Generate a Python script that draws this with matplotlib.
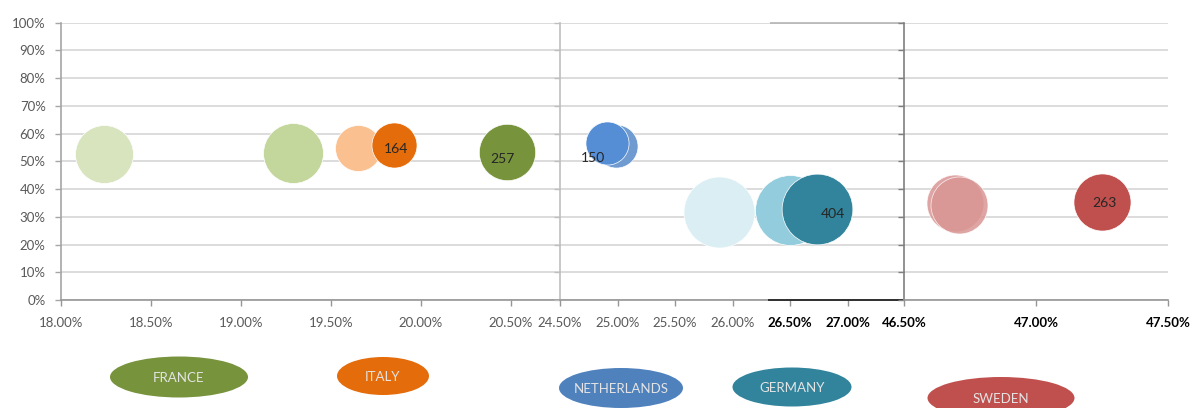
import matplotlib
matplotlib.use("Agg")
import matplotlib.pyplot as plt
from matplotlib.patches import Ellipse
from matplotlib.ticker import FixedLocator, FuncFormatter

plt.rcParams['font.family'] = ['Lato', 'DejaVu Sans']

# ---------------- data ----------------
countries = ["FRANCE", "ITALY", "NETHERLANDS", "GERMANY", "SWEDEN"]
country_colors = ["#77933c", "#e46c0a", "#4f81bd", "#31849b", "#c0504d"]

bubble_panel = [0, 0, 0, 0, 0, 1, 1, 1, 1, 1, 2, 2, 2]
bubble_x = [18.24, 19.29, 20.48, 19.65, 19.85, 24.99, 24.91, 25.88, 26.50, 26.73, 46.695, 46.71, 47.25]
bubble_y = [52.6, 53.0, 53.4, 54.7, 56.0, 55.6, 56.5, 31.8, 32.3, 32.9, 34.8, 34.4, 35.2]
bubble_value = [271, 290, 257, 171, 164, 150, 150, 407, 395, 404, 262, 262, 263]
bubble_label = ["", "", "257", "", "164", "", "150", "", "", "404", "", "", "263"]
bubble_color = ["#d7e4bd", "#c3d69b", "#77933c", "#fac090", "#e46c0a",
                "#6f9bd1", "#558ed5", "#dbeef4", "#93cddd", "#31849b",
                "#d99694", "#d99694", "#c0504d"]
bubble_alpha = [1, 1, 1, 1, 1, 1, 1, 1, 1, 1, 0.85, 0.85, 1]

panel_xlim = [(18.0, 20.772), (24.5, 27.49), (46.5, 47.5)]
panel_xticks = [[18.0, 18.5, 19.0, 19.5, 20.0, 20.5],
                [24.5, 25.0, 25.5, 26.0, 26.5, 27.0],
                [46.5, 47.0, 47.5]]
bold_ticks = [26.5, 27.0, 46.5, 47.0, 47.5]
y_ticks = [0, 10, 20, 30, 40, 50, 60, 70, 80, 90, 100]

# label offsets (points) relative to bubble centres
label_offsets = {"257": (-3.6, -5.0), "164": (1.4, -3.2), "150": (-10.0, -10.6),
                 "404": (11.5, -3.8), "263": (2.0, -0.5)}

# ---------------- layout ----------------
W, H = 1196, 408
fig = plt.figure(figsize=(W / 100, H / 100), dpi=100)
bottom = (H - 300) / H
height = (300 - 22.7) / H
panel_px = [(61, 560), (560, 904), (904, 1168)]
axes = []
for i, (l, r) in enumerate(panel_px):
    ax = fig.add_axes([l / W, bottom, (r - l) / W, height])
    ax.patch.set_alpha(0)
    axes.append(ax)

size_k = (0.72 * 3.52) ** 2
grey_txt = "#595959"

for i, ax in enumerate(axes):
    ax.set_xlim(*panel_xlim[i])
    ax.set_ylim(0, 100)
    ax.yaxis.set_major_locator(FixedLocator(y_ticks))
    ax.xaxis.set_major_locator(FixedLocator(panel_xticks[i]))
    ax.grid(axis='y', color='#d9d9d9', linewidth=1.3, zorder=0)
    ax.set_axisbelow(True)
    for s in ['top', 'right']:
        ax.spines[s].set_visible(False)
    lc = ['#a6a6a6', '#bfbfbf', '#7f7f7f'][i]
    ax.spines['left'].set_color(lc)
    ax.spines['left'].set_linewidth(1.2)
    ax.spines['bottom'].set_color('#969696')
    ax.spines['bottom'].set_linewidth(1.2)
    ax.tick_params(axis='y', direction='out', length=4, width=1, color=lc,
                   labelsize=9.5, labelcolor=grey_txt, pad=7)
    ax.tick_params(axis='x', direction='out', length=4, width=1, color='#969696',
                   labelsize=9.5, labelcolor=grey_txt, pad=8)
    if i == 0:
        ax.yaxis.set_major_formatter(FuncFormatter(lambda v, p: f"{v:.0f}%"))
    else:
        ax.set_yticklabels([])
    ax.xaxis.set_major_formatter(FuncFormatter(lambda v, p: f"{v:.2f}%"))
    for lab, val in zip(ax.get_xticklabels(), panel_xticks[i]):
        if val in bold_ticks:
            lab.set_fontweight('bold')
            lab.set_color('black')

# overlapping darker axis fragment from the composite
axes[1].axhline(0, xmin=0.604, xmax=1, color='#303030', linewidth=1.4, zorder=3,
                clip_on=False, solid_capstyle='butt')
axes[1].axhline(100, xmin=0.61, xmax=1, color='#b4b4b4', linewidth=1.2, zorder=1,
                clip_on=False, solid_capstyle='butt')

for k in range(len(bubble_x)):
    ax = axes[bubble_panel[k]]
    ax.scatter([bubble_x[k]], [bubble_y[k]], s=bubble_value[k] * size_k,
               color=bubble_color[k], alpha=bubble_alpha[k], edgecolors='white',
               linewidths=0.5, zorder=3 + k * 0.01, clip_on=False)
    if bubble_label[k]:
        ax.annotate(bubble_label[k], (bubble_x[k], bubble_y[k]),
                    xytext=label_offsets[bubble_label[k]], textcoords='offset points',
                    ha='center', va='center', fontsize=10, color='#262626',
                    zorder=5, annotation_clip=False)

# legend ellipses below
legend_px = [(179, 377, 138, 41), (383, 376, 92, 38), (621, 388, 124, 40),
             (792, 387, 119, 39), (1001, 398, 147, 42)]
for name, col, (cx, cy, w, h) in zip(countries, country_colors, legend_px):
    e = Ellipse((cx / W, 1 - cy / H), w / W, h / H, transform=fig.transFigure,
                facecolor=col, edgecolor='none')
    fig.patches.append(e)
    fig.text(cx / W, 1 - (cy + 1) / H, name, ha='center', va='center',
             fontsize=9.5, color='#e4e4e4')

fig.savefig("out.png", dpi=100)
